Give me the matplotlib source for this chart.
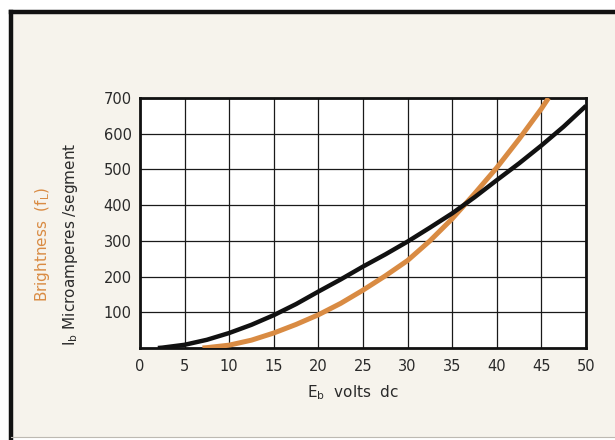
import matplotlib
matplotlib.use("Agg")
import matplotlib.pyplot as plt
from matplotlib.patches import Rectangle
from matplotlib.lines import Line2D

# Data
current_x = [2, 2.5, 5, 7.5, 10, 12.5, 15, 17.5, 20, 22.5, 25, 27.5, 30, 32.5, 35, 37.5, 40, 42.5, 45, 47.5, 50]
current_y = [0, 1, 9, 23, 42, 65, 92, 123, 158, 192, 228, 262, 298, 337, 377, 422, 470, 517, 567, 620, 678]

bright_x = [7, 7.5, 10, 12.5, 15, 17.5, 20, 22.5, 25, 27.5, 30, 32.5, 35, 37.5, 40, 42.5, 45, 45.8]
bright_y = [0, 1, 8, 22, 42, 66, 93, 125, 162, 202, 245, 300, 362, 432, 505, 585, 670, 700]

x_ticks = [0, 5, 10, 15, 20, 25, 30, 35, 40, 45, 50]
y_ticks = [100, 200, 300, 400, 500, 600, 700]

ORANGE = "#d98b43"
CREAM = "#f6f3ec"
TEXT = "#2a2a2a"

fig = plt.figure(figsize=(6.15, 4.40), dpi=100, facecolor="white")

# cream panel with dark frame
fig.add_artist(Rectangle((11/615, 3/440), 1 - 11/615, 1 - 12.5/440 - 3/440,
                         transform=fig.transFigure, facecolor=CREAM, edgecolor="none", zorder=0))
fig.add_artist(Line2D([11/615, 1.0], [1 - 12.5/440, 1 - 12.5/440], transform=fig.transFigure,
                      color="#111111", lw=3.2, solid_capstyle="projecting"))
fig.add_artist(Line2D([11/615, 11/615], [1 - 12.5/440, 0.0], transform=fig.transFigure,
                      color="#111111", lw=3.2, solid_capstyle="projecting"))
fig.add_artist(Line2D([11/615, 1.0], [1 - 437/440, 1 - 437/440], transform=fig.transFigure,
                      color="#bdb9b2", lw=0.8))

ax = fig.add_axes([140/615, 1 - 348/440, (586 - 140)/615, (348 - 98)/440])
ax.set_facecolor("white")
ax.set_xlim(0, 50)
ax.set_ylim(0, 700)

ax.set_xticks(x_ticks)
ax.set_yticks(y_ticks)
ax.set_xticklabels([str(v) for v in x_ticks])
ax.set_yticklabels([str(v) for v in y_ticks])
ax.tick_params(length=0, labelsize=10.5, colors=TEXT, pad=8)
ax.tick_params(axis="y", pad=6)

ax.grid(True, color="#1a1a1a", lw=0.9)
ax.set_axisbelow(True)
for s in ax.spines.values():
    s.set_linewidth(2.0)
    s.set_color("#111111")

ax.plot(bright_x, bright_y, color=ORANGE, lw=3.6, solid_capstyle="butt", clip_on=True, zorder=3)
ax.plot(current_x, current_y, color="#111111", lw=3.2, solid_capstyle="butt", clip_on=True, zorder=4)

fig.text(353/615, 1 - 393/440, r"E$_\mathregular{b}$  volts  dc", ha="center", va="center",
         fontsize=11, color=TEXT)
fig.text(70/615, 1 - 244/440, r"I$_\mathregular{b}$ Microamperes /segment", ha="center", va="center",
         rotation=90, fontsize=11, color=TEXT)
fig.text(42/615, 1 - 244/440, r"Brightness  (f$_\mathregular{L}$)", ha="center", va="center",
         rotation=90, fontsize=11, color=ORANGE)

fig.savefig("out.png", dpi=100, facecolor=fig.get_facecolor())
